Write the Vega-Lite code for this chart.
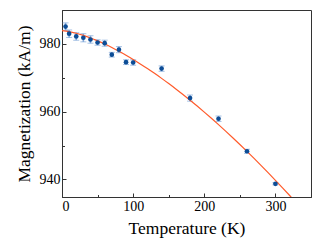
{
  "$schema": "https://vega.github.io/schema/vega-lite/v6.json",
  "width": 249,
  "height": 187,
  "autosize": {"type": "none"},
  "padding": {"left": 62, "top": 10, "right": 21, "bottom": 52},
  "config": {
    "view": {"stroke": "#333333", "strokeWidth": 1},
    "font": "Liberation Serif",
    "axis": {
      "grid": false,
      "domainColor": "#333333",
      "domainWidth": 1,
      "tickColor": "#333333",
      "tickWidth": 1,
      "labelFont": "Liberation Serif",
      "labelFontSize": 14,
      "labelColor": "#000000",
      "titleFont": "Liberation Serif",
      "titleFontSize": 17.5,
      "titleFontWeight": "normal",
      "titleColor": "#000000"
    }
  },
  "datasets": {
    "pts": [
      {"T": 5, "M": 985.1, "err": 1.1},
      {"T": 10, "M": 983.0, "err": 1.1},
      {"T": 20, "M": 982.2, "err": 1.1},
      {"T": 30, "M": 981.8, "err": 1.2},
      {"T": 40, "M": 981.3, "err": 1.1},
      {"T": 50, "M": 980.4, "err": 0.8},
      {"T": 60, "M": 980.2, "err": 0.9},
      {"T": 70, "M": 976.8, "err": 0.7},
      {"T": 80, "M": 978.3, "err": 0.9},
      {"T": 90, "M": 974.6, "err": 0.7},
      {"T": 100, "M": 974.5, "err": 0.8},
      {"T": 140, "M": 972.7, "err": 0.8},
      {"T": 180, "M": 964.0, "err": 0.9},
      {"T": 220, "M": 957.9, "err": 0.8},
      {"T": 260, "M": 948.3, "err": 0.6},
      {"T": 300, "M": 938.7, "err": 0.3}
    ],
    "fit": [
      {"T": 0, "M": 983.9},
      {"T": 10, "M": 983.63},
      {"T": 20, "M": 983.14},
      {"T": 30, "M": 982.5},
      {"T": 40, "M": 981.75},
      {"T": 50, "M": 980.89},
      {"T": 60, "M": 979.95},
      {"T": 70, "M": 978.92},
      {"T": 80, "M": 977.82},
      {"T": 90, "M": 976.64},
      {"T": 100, "M": 975.4},
      {"T": 110, "M": 974.09},
      {"T": 120, "M": 972.73},
      {"T": 130, "M": 971.3},
      {"T": 140, "M": 969.82},
      {"T": 150, "M": 968.29},
      {"T": 160, "M": 966.7},
      {"T": 170, "M": 965.06},
      {"T": 180, "M": 963.37},
      {"T": 190, "M": 961.64},
      {"T": 200, "M": 959.86},
      {"T": 210, "M": 958.03},
      {"T": 220, "M": 956.16},
      {"T": 230, "M": 954.25},
      {"T": 240, "M": 952.3},
      {"T": 250, "M": 950.3},
      {"T": 260, "M": 948.26},
      {"T": 270, "M": 946.19},
      {"T": 280, "M": 944.08},
      {"T": 290, "M": 941.92},
      {"T": 300, "M": 939.73},
      {"T": 310, "M": 937.51},
      {"T": 320, "M": 935.24},
      {"T": 330, "M": 932.94}
    ]
  },
  "resolve": {"axis": {"x": "independent", "y": "independent"}},
  "layer": [
    {
      "data": {"name": "pts"},
      "mark": {"type": "errorbar", "color": "#7fa6d8", "ticks": {"size": 6, "strokeWidth": 1.3}, "rule": {"strokeWidth": 1.6}},
      "encoding": {
        "x": {
          "field": "T",
          "type": "quantitative",
          "scale": {"domain": [0, 350], "nice": false, "zero": false},
          "axis": {
            "orient": "bottom",
            "title": "Temperature (K)",
            "values": [0, 100, 200, 300],
            "tickSize": -4,
            "labelPadding": 6,
            "titlePadding": 6
          }
        },
        "y": {
          "field": "M",
          "type": "quantitative",
          "scale": {"domain": [934.8, 990], "nice": false, "zero": false},
          "axis": {
            "orient": "left",
            "title": "Magnetization (kA/m)",
            "values": [940, 960, 980],
            "tickSize": -4,
            "labelPadding": 6,
            "titlePadding": 6
          }
        },
        "yError": {"field": "err"}
      }
    },
    {
      "data": {"name": "fit"},
      "mark": {"type": "line", "color": "#ff5a2a", "strokeWidth": 1.2, "clip": true, "interpolate": "monotone"},
      "encoding": {
        "x": {
          "field": "T",
          "type": "quantitative",
          "axis": {
            "orient": "top",
            "offset": -187,
            "title": null,
            "values": [50, 150, 250, 350],
            "tickSize": 2.5,
            "labels": false,
            "domain": false
          }
        },
        "y": {
          "field": "M",
          "type": "quantitative",
          "axis": {
            "orient": "right",
            "offset": -249,
            "title": null,
            "values": [950, 970, 990],
            "tickSize": 2.5,
            "labels": false,
            "domain": false
          }
        }
      }
    },
    {
      "data": {"name": "pts"},
      "mark": {"type": "point", "filled": true, "shape": "circle", "size": 22, "color": "#0d4d96", "opacity": 1},
      "encoding": {
        "x": {"field": "T", "type": "quantitative", "axis": null},
        "y": {"field": "M", "type": "quantitative", "axis": null}
      }
    }
  ]
}
